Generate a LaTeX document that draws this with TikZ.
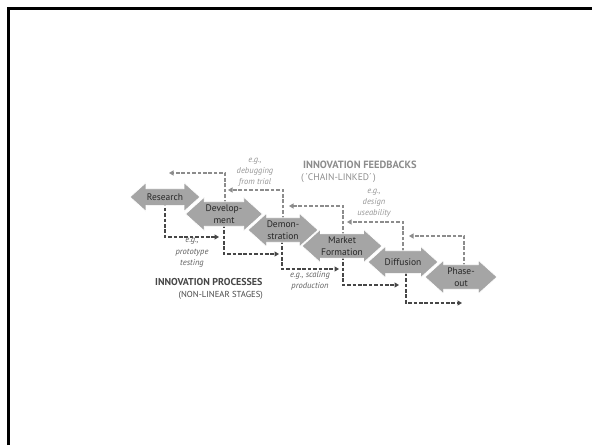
\documentclass[tikz,border=0pt]{standalone}
\usepackage{fontspec}
\setmainfont{PT Sans}
\usetikzlibrary{shapes.arrows,arrows.meta}
\definecolor{stagegray}{RGB}{165,165,165}
\definecolor{stagetext}{RGB}{38,38,38}
\definecolor{procgray}{RGB}{70,70,70}
\definecolor{fbgray}{RGB}{140,140,140}
\definecolor{fblabel}{RGB}{150,150,150}
\definecolor{proclabel}{RGB}{95,95,95}
\pgfdeclarelayer{bg}
\pgfsetlayers{bg,main}
\tikzset{
  stage/.style={double arrow, double arrow tip angle=84, double arrow head extend=4.5pt,
    fill=stagegray, draw=white, line width=0.7pt, text=stagetext,
    font=\fontsize{9.5}{12}\selectfont, align=center, inner xsep=0pt, inner ysep=2.5pt},
  oneline/.style={text height=7pt, text depth=0pt},
  proc/.style={draw=procgray, line width=1.3pt, dash pattern=on 3.6pt off 1.8pt,
    -{Triangle[length=4.5pt,width=5pt]}},
  fb/.style={draw=fbgray, line width=1.3pt, dash pattern=on 3.6pt off 1.8pt,
    -{Triangle[length=4.5pt,width=5pt]}},
  fbtext/.style={text=fblabel, font=\fontsize{8.5}{11}\selectfont\itshape, align=center, inner sep=0pt},
  proctext/.style={text=proclabel, font=\fontsize{8.5}{11.5}\selectfont\itshape, align=center, inner sep=0pt},
  headfb/.style={text=fbgray, inner sep=0pt},
  headproc/.style={text=procgray, inner sep=0pt}
}
\begin{document}
\begin{tikzpicture}[x=1pt,y=-1pt]
\useasboundingbox (0,0) rectangle (592,445);
\draw[line width=3pt] (8,445) -- (8,8.5) -- (592,8.5);

% stages (drawn right to left so earlier heads lie on top)
\node[stage, minimum height=72pt] (pha) at (461,277) {Phase-\\out};
\node[stage, oneline, inner ysep=7.5pt, minimum height=70pt] (dif) at (403,262) {Diffusion};
\node[stage, minimum height=80pt] (mar) at (342,246) {Market\\Formation};
\node[stage, minimum height=70pt] (dem) at (283,230) {Demon-\\stration};
\node[stage, minimum height=77pt] (dev) at (224,214) {Develop-\\ment};
\node[stage, oneline, inner ysep=4.5pt, double arrow head extend=6pt, minimum height=70pt] (res) at (165,197) {Research};

% free ends of connectors
\coordinate (f1) at (169,173);
\coordinate (f2) at (228,190);
\coordinate (f3) at (289,206);
\coordinate (f4) at (347,222);
\coordinate (f5) at (409,236);
\coordinate (p1) at (219,237);
\coordinate (p2) at (279,254);
\coordinate (p3) at (339,269);
\coordinate (p4) at (399,285);
\coordinate (p5) at (462,303);

\begin{pgfonlayer}{bg}
\draw[fb] ([xshift=1pt]dev.center) |- (f1);
\draw[fb] (dem.center) |- (f2);
\draw[fb] ([xshift=1pt]mar.center) |- (f3);
\draw[fb] (dif.center) |- (f4);
\draw[fb] ([xshift=3pt]pha.center) |- (f5);
\draw[proc] (res.center) |- (p1);
\draw[proc] (dev.center) |- (p2);
\draw[proc] ([xshift=-1pt]dem.center) |- (p3);
\draw[proc] ([xshift=1pt]mar.center) |- (p4);
\draw[proc] ([xshift=3pt]dif.center) |- (p5);
\end{pgfonlayer}

% labels
\node[fbtext] (l1) at (255,172) {e.g.,\\debugging\\from trial};
\node[fbtext] (l2) at (374,203) {e.g.,\\design\\useability};
\node[proctext] (l3) at (192,253) {e.g.,\\prototype\\testing};
\node[proctext] (l4) at (310,281) {e.g., scaling\\production};
\node[headfb, anchor=west, font=\fontsize{10.5}{12}\selectfont\bfseries] (h1) at (303,165) {INNOVATION FEEDBACKS};
\node[headfb, anchor=west, font=\fontsize{9.5}{11}\selectfont] (h2) at (301,178) {(\,´CHAIN-LINKED´\,)};
\node[headproc, anchor=west, font=\fontsize{10}{12}\selectfont\bfseries] (h3) at (155,282) {INNOVATION PROCESSES};
\node[headproc, anchor=east, font=\fontsize{8.7}{11}\selectfont] (h4) at (263,295) {(NON-LINEAR STAGES)};
\end{tikzpicture}
\end{document}
